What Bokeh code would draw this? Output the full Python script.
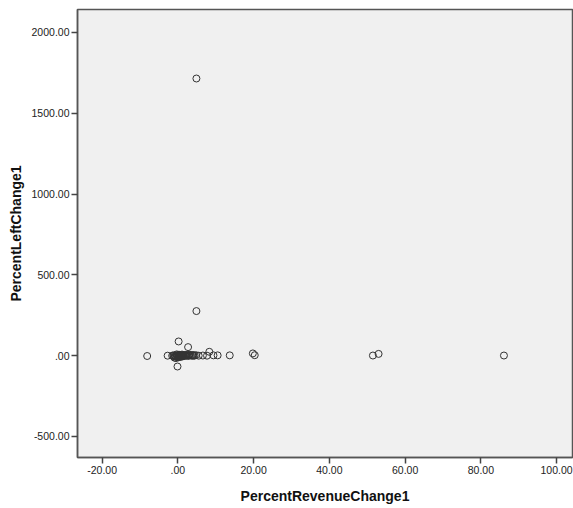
from bokeh.plotting import figure
from bokeh.models import Range1d, FixedTicker, ColumnDataSource
from bokeh.embed import file_html
from bokeh.resources import INLINE

# Data
revenue_change = [
    4.9, 4.9, 0.2, 2.7, -0.1, -8.1, -2.7, 8.3, 9.4, 10.5, 13.7, 19.8, 20.3, 51.5, 53.0, 86.1,
    -1.5, -1.2, -1.0, -0.8, -0.6, -0.4, -0.2, 0.0, 0.2, 0.4, 0.6, 0.8, 1.0, 1.2, 1.4,
    1.6, 1.8, 2.0, 2.3, 2.6, 2.9, 3.2, 3.5, 3.8, 4.1, 4.4, 4.8, 5.5, 6.6, 7.7,
    -0.9, -0.5, 0.1, 0.5, 0.9, 1.3, -0.3, 0.3, 1.1, 2.1, 3.0, 4.0,
]
left_change = [
    1715, 276, 88, 53, -67, -2, 0, 24, 2, 2, 2, 14, 3, 1, 11, 1,
    0, 2, -3, 1, -5, 3, -2, 1, -4, 2, -1, 3, -2, 1, 4,
    -1, 2, 0, 3, -2, 1, 4, 0, 2, -1, 1, 3, 0, 1, 0,
    -12, -15, -10, -8, -6, -4, 8, 6, 7, 5, 6, 4,
]

x_ticks = [-20, 0, 20, 40, 60, 80, 100]
x_tick_labels = ["-20.00", ".00", "20.00", "40.00", "60.00", "80.00", "100.00"]
y_ticks = [-500, 0, 500, 1000, 1500, 2000]
y_tick_labels = ["-500.00", ".00", "500.00", "1000.00", "1500.00", "2000.00"]

src = ColumnDataSource(dict(x=revenue_change, y=left_change))

p = figure(
    output_backend="svg", toolbar_location=None,
    frame_width=495, frame_height=448,
    min_border_left=77, min_border_top=9, min_border_right=1, min_border_bottom=50,
    x_range=Range1d(-26.5, 104.2), y_range=Range1d(-630, 2142),
    background_fill_color="#f0f0f0", border_fill_color="white",
)
p.outline_line_color = "#555555"
p.outline_line_width = 1.5
p.grid.visible = False

p.scatter("x", "y", source=src, marker="circle", size=7,
          fill_color=None, line_color="#333333", line_width=1)

font = "Liberation Sans"
for ax, ticks, labels in ((p.xaxis[0], x_ticks, x_tick_labels), (p.yaxis[0], y_ticks, y_tick_labels)):
    ax.ticker = FixedTicker(ticks=ticks)
    ax.major_label_overrides = {t: l for t, l in zip(ticks, labels)}
    ax.minor_tick_line_color = None
    ax.major_tick_in = 0
    ax.major_tick_out = 6
    ax.major_tick_line_color = "#444444"
    ax.major_tick_line_width = 1.5
    ax.axis_line_color = "#555555"
    ax.axis_line_width = 1.5
    ax.major_label_text_font = font
    ax.major_label_text_font_size = "10.5px"
    ax.major_label_text_color = "#222222"
    ax.major_label_standoff = 2
    ax.axis_label_text_font = font
    ax.axis_label_text_font_size = "14px"
    ax.axis_label_text_font_style = "bold"
    ax.axis_label_text_color = "#111111"

p.xaxis.axis_label = "PercentRevenueChange1"
p.yaxis.axis_label = "PercentLeftChange1"
p.xaxis.axis_label_standoff = 11
p.yaxis.axis_label_standoff = 5

open("out.html", "w").write(file_html(p, INLINE))
